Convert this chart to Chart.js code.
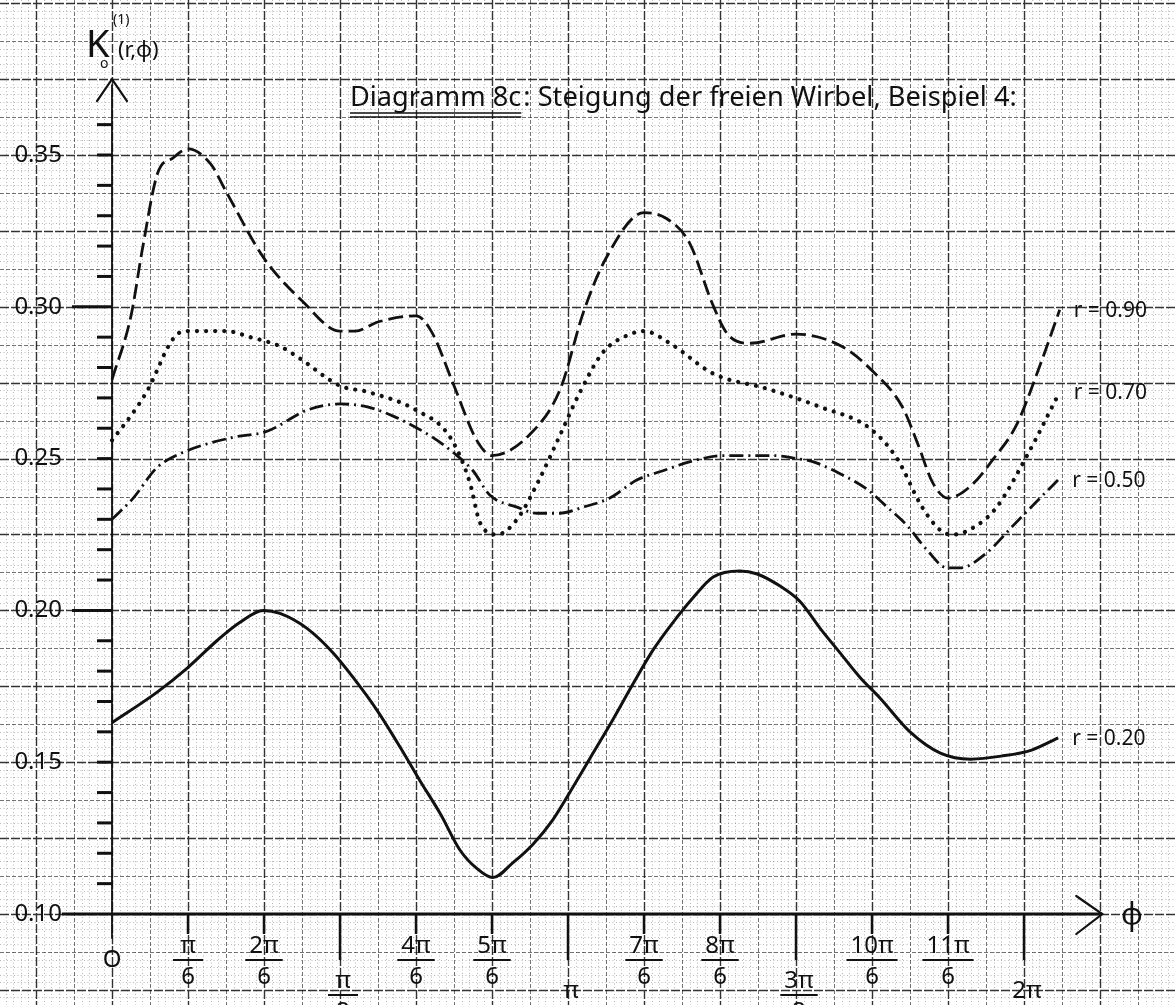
<!DOCTYPE html>
<html>
<head>
<meta charset="utf-8">
<title>Diagramm 8c</title>
<script src="https://cdn.jsdelivr.net/npm/chart.js@4.4.1/dist/chart.umd.min.js"></script>
<style>
  html, body { margin: 0; padding: 0; background: #fff; }
  #wrap { width: 1175px; height: 1005px; position: relative; }
</style>
</head>
<body>
<div id="wrap"><canvas id="chart"></canvas></div>
<script>
// phi is given in units of pi/6 (0 .. 12 = 2 pi), K values read per curve
const phi90 = [0, 0.25, 0.4, 0.6, 0.8, 1.0, 1.3, 1.5, 2.0, 2.5, 3.0, 3.2, 3.5, 4.0, 4.2, 4.5, 4.8, 5.0, 5.5, 5.9,
  6.2, 6.5, 7.0, 7.3, 7.6, 7.9, 8.1, 8.4, 9.0, 9.6, 10.0, 10.4, 10.6, 10.8, 11.0, 11.3, 11.6, 11.9, 12.2, 12.47];
const k90 = [0.276, 0.297, 0.319, 0.344, 0.349, 0.352, 0.347, 0.338, 0.316, 0.302, 0.292, 0.292, 0.295, 0.297, 0.292,
  0.274, 0.256, 0.251, 0.258, 0.273, 0.298, 0.316, 0.331, 0.329, 0.321, 0.301, 0.291, 0.288, 0.291, 0.287,
  0.279, 0.267, 0.255, 0.242, 0.237, 0.241, 0.250, 0.261, 0.280, 0.299];

const phi70 = [0, 0.33, 0.5, 0.61, 0.72, 0.86, 1.0, 1.5, 1.82, 2.21, 2.47, 3.0, 3.36, 4.0, 4.45, 4.71, 4.84, 5.07,
  5.33, 5.6, 5.9, 6.16, 6.46, 6.82, 7.0, 7.34, 7.91, 8.62, 9.32, 9.97, 10.33, 10.66, 10.92, 11.07, 11.38, 11.64,
  12.04, 12.47];
const k70 = [0.256, 0.267, 0.274, 0.280, 0.286, 0.291, 0.292, 0.292, 0.290, 0.287, 0.283, 0.274, 0.272, 0.266,
  0.257, 0.242, 0.229, 0.225, 0.230, 0.242, 0.258, 0.272, 0.285, 0.291, 0.292, 0.288, 0.278, 0.273, 0.267,
  0.260, 0.250, 0.234, 0.226, 0.225, 0.228, 0.234, 0.251, 0.272];

const phi50 = [0, 0.28, 0.59, 0.93, 1.59, 2.04, 2.57, 3.0, 3.36, 3.7, 4.22, 4.49, 4.75, 4.97, 5.33, 5.59, 5.89,
  6.2, 6.55, 6.91, 7.25, 7.61, 8.04, 8.7, 9.01, 9.22, 9.58, 9.93, 10.2, 10.46, 10.72, 10.99, 11.16, 11.51,
  11.86, 12.21, 12.45];
const k50 = [0.230, 0.237, 0.247, 0.252, 0.257, 0.259, 0.266, 0.268, 0.267, 0.264, 0.257, 0.252, 0.246, 0.238,
  0.234, 0.232, 0.232, 0.234, 0.237, 0.243, 0.246, 0.249, 0.251, 0.251, 0.250, 0.249, 0.245, 0.240, 0.234,
  0.228, 0.220, 0.214, 0.214, 0.219, 0.228, 0.237, 0.243];

const phi20 = [0, 0.59, 0.99, 1.38, 1.68, 1.99, 2.21, 2.57, 2.91, 3.17, 3.49, 3.79, 4.05, 4.32, 4.58, 4.8, 5.01,
  5.28, 5.54, 5.8, 6.07, 6.33, 6.59, 6.86, 7.12, 7.38, 7.64, 7.91, 8.26, 8.49, 8.79, 9.05, 9.32, 9.58, 9.84,
  10.11, 10.5, 10.9, 11.3, 11.7, 12.1, 12.45];
const k20 = [0.163, 0.173, 0.181, 0.190, 0.196, 0.200, 0.199, 0.194, 0.186, 0.178, 0.167, 0.155, 0.144, 0.133,
  0.121, 0.115, 0.112, 0.117, 0.123, 0.131, 0.142, 0.153, 0.164, 0.176, 0.187, 0.196, 0.204, 0.211, 0.213,
  0.212, 0.208, 0.203, 0.194, 0.186, 0.178, 0.171, 0.160, 0.153, 0.151, 0.152, 0.154, 0.158];

const seriesLabels = ["r = 0.90", "r = 0.70", "r = 0.50", "r = 0.20"];

const yTickValues = [0.10, 0.15, 0.20, 0.25, 0.30, 0.35];
const yTickLabels = ["0.10", "0.15", "0.20", "0.25", "0.30", "0.35"];
const xTickNum = ["π", "2π", "π", "4π", "5π", "π", "7π", "8π", "3π", "10π", "11π", "2π"];
const xTickDen = ["6", "6", "2", "6", "6", "", "6", "6", "2", "6", "6", ""];

const titleMain = "Diagramm 8c";
const titleRest = ": Steigung der freien Wirbel, Beispiel 4:";

const HAND = '"Noto Sans", "DejaVu Sans", sans-serif';
const INK = "#111";

const toPoints = (xs, ys) => xs.map((v, i) => ({ x: v, y: ys[i] }));

// millimetre paper: dotted 1 mm, dashed 5 mm, firm 1 cm lines
const paper = {
  id: "paper",
  beforeDraw(chart) {
    const { ctx, width, height } = chart;
    const { x, y } = chart.scales;
    ctx.save();
    ctx.fillStyle = "#fff";
    ctx.fillRect(0, 0, width, height);
    const styles = {
      minor: { color: "rgba(0,0,0,0.28)", w: 1, dash: [1, 2.5] },
      mid: { color: "rgba(0,0,0,0.55)", w: 1, dash: [4, 2] },
      major: { color: "rgba(0,0,0,0.8)", w: 1.4, dash: [9, 2] }
    };
    const level = (n, full, half) => (n % full === 0 ? "major" : n % half === 0 ? "mid" : "minor");
    for (const name of ["minor", "mid", "major"]) {
      const s = styles[name];
      ctx.strokeStyle = s.color;
      ctx.lineWidth = s.w;
      ctx.setLineDash(s.dash);
      ctx.beginPath();
      for (let i = Math.ceil(x.min * 10); i <= Math.floor(x.max * 10); i++) {
        if (level(i, 10, 5) !== name) continue;
        const px = Math.round(x.getPixelForValue(i / 10)) + 0.5;
        ctx.moveTo(px, 0);
        ctx.lineTo(px, height);
      }
      for (let j = Math.ceil(y.min / 0.0025); j <= Math.floor(y.max / 0.0025); j++) {
        if (level(j, 10, 5) !== name) continue;
        const py = Math.round(y.getPixelForValue(j * 0.0025)) + 0.5;
        ctx.moveTo(0, py);
        ctx.lineTo(width, py);
      }
      ctx.stroke();
    }
    ctx.restore();
  }
};

// hand drawn axes, tick marks, fractions and captions
const axes = {
  id: "axes",
  beforeDatasetsDraw(chart) {
    const { ctx } = chart;
    const { x, y } = chart.scales;
    const x0 = x.getPixelForValue(0);
    const y0 = y.getPixelForValue(0.10);
    ctx.save();
    ctx.strokeStyle = INK;
    ctx.lineCap = "round";

    // vertical axis with arrow head
    const yTop = y.getPixelForValue(0.375);
    ctx.lineWidth = 1.8;
    ctx.beginPath();
    ctx.moveTo(x0, y0 + 24);
    ctx.lineTo(x0, yTop + 6);
    ctx.stroke();
    ctx.lineWidth = 2.2;
    ctx.beginPath();
    ctx.moveTo(x0 - 15, yTop + 22);
    ctx.lineTo(x0, yTop);
    ctx.lineTo(x0 + 15, yTop + 22);
    ctx.stroke();

    // y tick marks every 0.01
    ctx.lineWidth = 3;
    ctx.lineCap = "butt";
    for (let n = 11; n <= 36; n++) {
      const py = y.getPixelForValue(n / 100);
      const len = n === 20 || n === 30 ? 40 : 15;
      ctx.beginPath();
      ctx.moveTo(x0 - len, py);
      ctx.lineTo(x0, py);
      ctx.stroke();
    }

    // horizontal axis with arrow head
    const xEnd = x.getPixelForValue(13.03);
    ctx.lineWidth = 3;
    ctx.beginPath();
    ctx.moveTo(x.getPixelForValue(-0.66), y0);
    ctx.lineTo(xEnd, y0);
    ctx.stroke();
    ctx.lineWidth = 2.2;
    ctx.lineCap = "round";
    ctx.beginPath();
    ctx.moveTo(xEnd - 26, y0 - 18);
    ctx.lineTo(xEnd, y0);
    ctx.lineTo(xEnd - 26, y0 + 20);
    ctx.stroke();

    // x tick marks at multiples of pi/6
    ctx.lineWidth = 2.5;
    ctx.lineCap = "butt";
    for (let k = 1; k <= 12; k++) {
      const px = x.getPixelForValue(k);
      ctx.beginPath();
      ctx.moveTo(px, y0);
      ctx.lineTo(px, y0 + (k % 3 === 0 ? 46 : 20));
      ctx.stroke();
    }
    ctx.restore();
  },
  afterDatasetsDraw(chart) {
    const { ctx } = chart;
    const { x, y } = chart.scales;
    const x0 = x.getPixelForValue(0);
    const y0 = y.getPixelForValue(0.10);
    ctx.save();
    ctx.fillStyle = INK;
    ctx.strokeStyle = INK;

    // y tick labels
    ctx.font = `24px ${HAND}`;
    ctx.textAlign = "right";
    ctx.textBaseline = "middle";
    yTickValues.forEach((v, i) => {
      ctx.fillText(yTickLabels[i], x0 - 50, y.getPixelForValue(v));
    });

    // origin and axis names
    ctx.textAlign = "center";
    ctx.fillText("O", x0, y0 + 46);
    ctx.font = `30px ${HAND}`;
    ctx.fillText("φ", x.getPixelForValue(13.42), y0 + 2);

    ctx.textAlign = "left";
    ctx.textBaseline = "alphabetic";
    ctx.font = `38px ${HAND}`;
    ctx.fillText("K", x0 - 26, 57);
    ctx.font = `14px ${HAND}`;
    ctx.fillText("o", x0 - 12, 68);
    ctx.fillText("(1)", x0 + 1, 24);
    ctx.font = `22px ${HAND}`;
    ctx.fillText("(r,φ)", x0 + 6, 57);

    // x tick labels, fractions of pi
    ctx.lineWidth = 2;
    ctx.textAlign = "center";
    ctx.textBaseline = "middle";
    ctx.font = `24px ${HAND}`;
    for (let k = 1; k <= 12; k++) {
      const px = x.getPixelForValue(k) + (k % 3 === 0 ? 3 : 0);
      const num = xTickNum[k - 1];
      const den = xTickDen[k - 1];
      const major = k % 3 === 0;
      const numY = major ? y0 + (den ? 67 : 77) : y0 + 32;
      ctx.fillText(num, px, numY);
      if (den) {
        const half = Math.max(ctx.measureText(num).width, 22) / 2 + 4;
        const barY = numY + 14;
        ctx.beginPath();
        ctx.moveTo(px - half, barY);
        ctx.lineTo(px + half, barY);
        ctx.stroke();
        ctx.fillText(den, px, barY + 17);
      }
    }

    // curve captions at the right end of each curve
    ctx.textAlign = "left";
    ctx.font = `21px ${HAND}`;
    chart.data.datasets.forEach((ds) => {
      const last = ds.data[ds.data.length - 1];
      ctx.fillText(ds.label, x.getPixelForValue(last.x) + 14, y.getPixelForValue(last.y) + 1);
    });

    // title with double underline
    ctx.textBaseline = "alphabetic";
    let size = 26;
    ctx.font = `${size}px ${HAND}`;
    const full = ctx.measureText(titleMain + titleRest).width;
    size = size * 665 / full;
    ctx.font = `${size}px ${HAND}`;
    const tx = 350;
    const ty = 106;
    ctx.fillText(titleMain, tx, ty);
    const wMain = ctx.measureText(titleMain).width;
    ctx.fillText(titleRest, tx + wMain + 2, ty);
    ctx.lineWidth = 1.6;
    ctx.beginPath();
    ctx.moveTo(tx, ty + 7);
    ctx.lineTo(tx + wMain, ty + 7);
    ctx.moveTo(tx, ty + 11);
    ctx.lineTo(tx + wMain, ty + 11);
    ctx.stroke();

    ctx.restore();
  }
};

const common = { borderColor: INK, pointRadius: 0, fill: false, cubicInterpolationMode: "monotone" };

new Chart(document.getElementById("chart"), {
  type: "line",
  data: {
    datasets: [
      { ...common, label: seriesLabels[0], data: toPoints(phi90, k90), borderWidth: 2.8, borderDash: [15, 6] },
      { ...common, label: seriesLabels[1], data: toPoints(phi70, k70), borderWidth: 4.2, borderDash: [0.1, 9],
        borderCapStyle: "round" },
      { ...common, label: seriesLabels[2], data: toPoints(phi50, k50), borderWidth: 2.8, borderDash: [14, 5, 2, 5] },
      { ...common, label: seriesLabels[3], data: toPoints(phi20, k20), borderWidth: 3 }
    ]
  },
  options: {
    responsive: true,
    maintainAspectRatio: false,
    animation: false,
    events: [],
    layout: { padding: 0 },
    plugins: { legend: { display: false }, tooltip: { enabled: false } },
    scales: {
      x: { type: "linear", min: -112 / 76, max: (1175 - 112) / 76, display: false },
      y: { type: "linear", min: 0.35 - 850 / 3036, max: 0.35 + 155 / 3036, display: false }
    }
  },
  plugins: [paper, axes]
});
</script>
</body>
</html>
